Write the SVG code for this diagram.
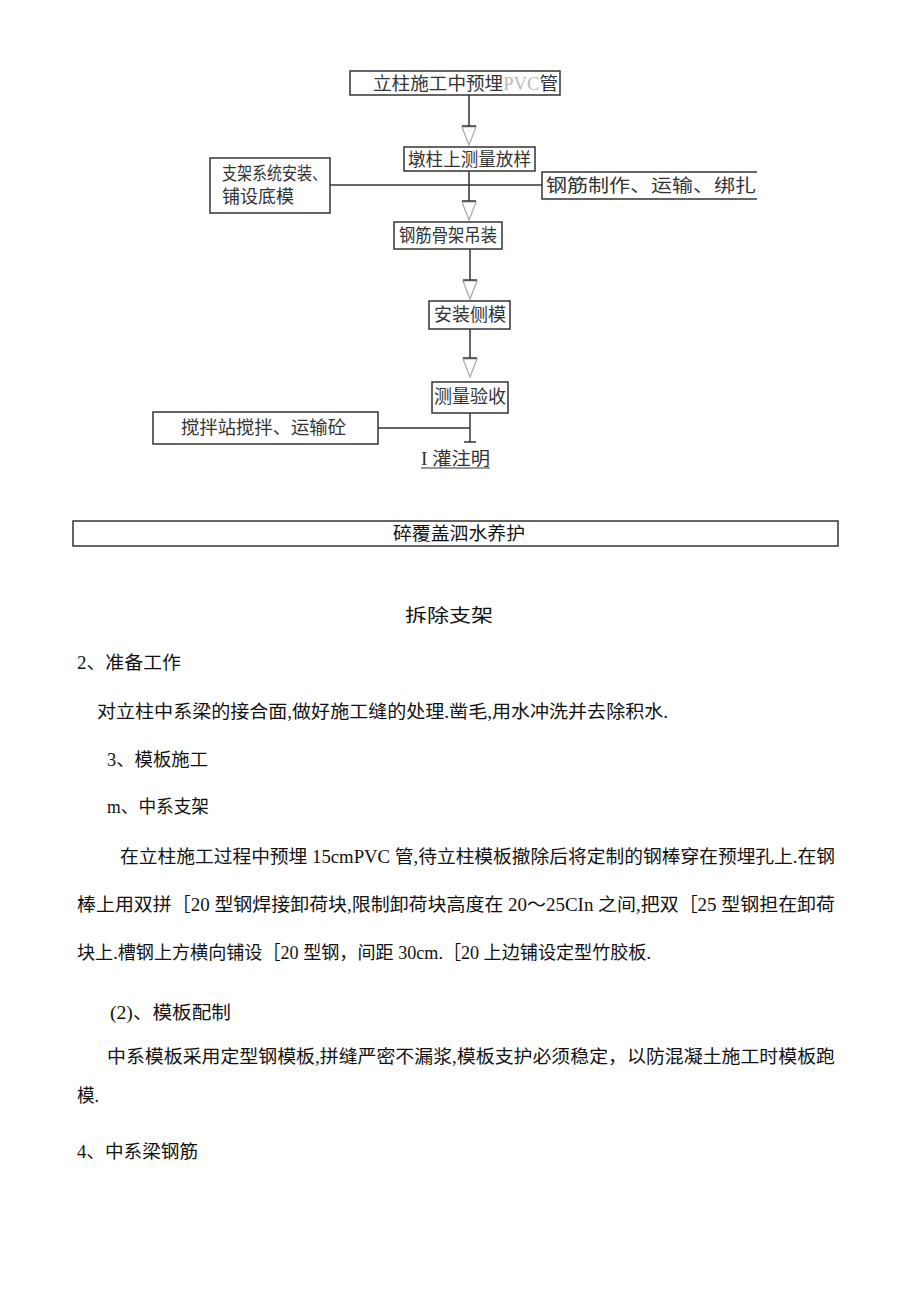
<svg xmlns="http://www.w3.org/2000/svg" width="920" height="1301" viewBox="0 0 920 1301">
<style>
.box{fill:#fff;stroke:#333;stroke-width:1.5}
.ln{stroke:#333;stroke-width:1.5;fill:none}
.tri{fill:#fff;stroke:#aaa;stroke-width:1.2}
.ft{font-family:"Liberation Serif","Noto Sans CJK SC",serif;font-size:18px;fill:#333}
.bt{font-family:"Liberation Serif","Noto Sans CJK SC",serif;font-size:18px;fill:#111}
</style>
<defs>
<g id="ah">
<polygon points="-7,1 7,1 0,19" class="tri"/>
<line x1="-7" y1="0" x2="7" y2="0" class="ln"/>
</g>
</defs>
<rect width="920" height="1301" fill="#fff"/>
<g id="connectors">
<line x1="469" y1="95" x2="469" y2="126" class="ln"/>
<use href="#ah" x="469" y="126"/>
<line x1="469" y1="171" x2="469" y2="201" class="ln"/>
<use href="#ah" x="469" y="201"/>
<line x1="330" y1="185" x2="542" y2="185" class="ln"/>
<line x1="470" y1="249" x2="470" y2="280" class="ln"/>
<use href="#ah" x="470" y="280"/>
<line x1="470" y1="329" x2="470" y2="358" class="ln"/>
<use href="#ah" x="470" y="358"/>
<line x1="470" y1="413" x2="470" y2="442" class="ln"/>
<line x1="464" y1="442" x2="476" y2="442" class="ln"/>
<line x1="378" y1="428" x2="470" y2="428" class="ln"/>
</g>
<g id="n1">
<rect x="350" y="71" width="210" height="24" class="box"/>
<text x="373" y="90" class="ft" textLength="185" lengthAdjust="spacingAndGlyphs">立柱施工中预埋<tspan fill="#bbb">PVC</tspan>管</text>
</g>
<g id="n2">
<rect x="404" y="147" width="131" height="24" class="box"/>
<text x="408" y="166" class="ft" textLength="123" lengthAdjust="spacingAndGlyphs">墩柱上测量放样</text>
</g>
<g id="n3">
<rect x="210" y="158" width="120" height="55" class="box"/>
<text x="222" y="180" class="ft" textLength="105" lengthAdjust="spacingAndGlyphs">支架系统安装、</text>
<text x="222" y="203" class="ft" textLength="72" lengthAdjust="spacingAndGlyphs">铺设底模</text>
</g>
<g id="n4">
<path d="M757,172 H542 V199 H757" class="ln"/>
<text x="546" y="192" class="ft" textLength="210" lengthAdjust="spacingAndGlyphs">钢筋制作、运输、绑扎</text>
</g>
<g id="n5">
<rect x="394" y="222" width="108" height="27" class="box"/>
<text x="399" y="242" class="ft" textLength="98" lengthAdjust="spacingAndGlyphs">钢筋骨架吊装</text>
</g>
<g id="n6">
<rect x="429" y="301" width="81" height="28" class="box"/>
<text x="434" y="321" class="ft" textLength="72" lengthAdjust="spacingAndGlyphs">安装侧模</text>
</g>
<g id="n7">
<rect x="432" y="382" width="76" height="31" class="box"/>
<text x="434" y="403" class="ft" textLength="72" lengthAdjust="spacingAndGlyphs">测量验收</text>
</g>
<g id="n8">
<rect x="153" y="412" width="225" height="32" class="box"/>
<text x="181" y="434" class="ft" textLength="165" lengthAdjust="spacingAndGlyphs">搅拌站搅拌、运输砼</text>
</g>
<g id="n9">
<text x="421" y="465" class="ft" textLength="69" lengthAdjust="spacingAndGlyphs">I 灌注明</text>
<line x1="421" y1="468" x2="490" y2="468" stroke="#333" stroke-width="1.2"/>
</g>
<g id="n10">
<rect x="73" y="521" width="765" height="25" class="box" stroke-width="1.2"/>
<text x="393" y="540" class="bt" textLength="132" lengthAdjust="spacingAndGlyphs">碎覆盖泗水养护</text>
</g>
<g id="body">
<text x="405" y="622" class="bt" textLength="88" lengthAdjust="spacingAndGlyphs">拆除支架</text>
<text x="77" y="669" class="bt" textLength="104" lengthAdjust="spacingAndGlyphs">2、准备工作</text>
<text x="97" y="718" class="bt" textLength="571" lengthAdjust="spacingAndGlyphs">对立柱中系梁的接合面,做好施工缝的处理.凿毛,用水冲洗并去除积水.</text>
<text x="107" y="766" class="bt" textLength="101" lengthAdjust="spacingAndGlyphs">3、模板施工</text>
<text x="107" y="813" class="bt" textLength="102" lengthAdjust="spacingAndGlyphs">m、中系支架</text>
<text x="120" y="863" class="bt" textLength="715" lengthAdjust="spacingAndGlyphs">在立柱施工过程中预埋 15cmPVC 管,待立柱模板撤除后将定制的钢棒穿在预埋孔上.在钢</text>
<text x="77" y="911" class="bt" textLength="758" lengthAdjust="spacingAndGlyphs">棒上用双拼［20 型钢焊接卸荷块,限制卸荷块高度在 20～25CIn 之间,把双［25 型钢担在卸荷</text>
<text x="77" y="959" class="bt" textLength="574" lengthAdjust="spacingAndGlyphs">块上.槽钢上方横向铺设［20 型钢，间距 30cm.［20 上边铺设定型竹胶板.</text>
<text x="110" y="1019" class="bt" textLength="121" lengthAdjust="spacingAndGlyphs">(2)、模板配制</text>
<text x="107" y="1063" class="bt" textLength="728" lengthAdjust="spacingAndGlyphs">中系模板采用定型钢模板,拼缝严密不漏浆,模板支护必须稳定，以防混凝土施工时模板跑</text>
<text x="77" y="1102" class="bt" textLength="22" lengthAdjust="spacingAndGlyphs">模.</text>
<text x="77" y="1158" class="bt" textLength="121" lengthAdjust="spacingAndGlyphs">4、中系梁钢筋</text>
</g>
</svg>
